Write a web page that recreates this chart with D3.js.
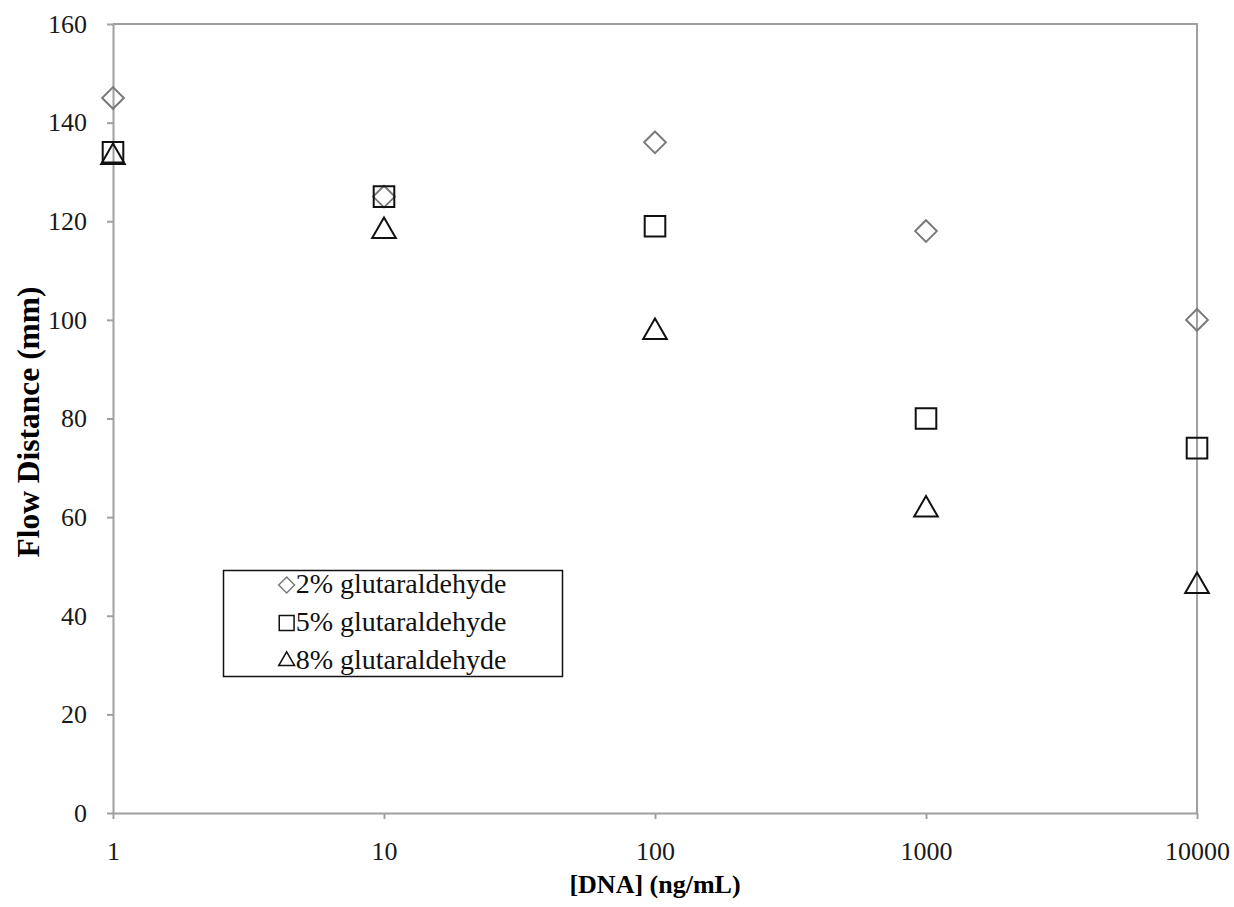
<!DOCTYPE html>
<html>
<head>
<meta charset="utf-8">
<script src="https://cdn.jsdelivr.net/npm/d3@7"></script>
<style>
  body { margin: 0; background: #fff; }
  .tick text { font-family: "Liberation Serif", "Times New Roman", serif; font-size: 26px; fill: #1a1a1a; }
  .tick line, .domain { stroke: #a0a0a0; stroke-width: 2; }
</style>
</head>
<body>
<svg width="1234" height="907"></svg>
<script>
var dna = [1, 10, 100, 1000, 10000];
var glut2 = [145, 125, 136, 118, 100];
var glut5 = [134, 125, 119, 80, 74];
var glut8 = [133, 118, 97.5, 61.5, 46];
var yTicks = [0, 20, 40, 60, 80, 100, 120, 140, 160];
var seriesNames = ["2% glutaraldehyde", "5% glutaraldehyde", "8% glutaraldehyde"];

var svg = d3.select("svg"),
	width = +svg.attr("width"),
	height = +svg.attr("height");

var margin = {left: 113, right: 37, top: 24, bottom: 94};

var x = d3.scaleLog()
	.domain([1, 10000])
	.range([margin.left, width - margin.right]);

var y = d3.scaleLinear()
	.domain([0, 160])
	.range([height - margin.bottom, margin.top]);

// frame (top and right edges)
svg.append("path")
	.attr("d", "M" + x(1) + "," + y(160) + "H" + x(10000) + "V" + y(0))
	.attr("fill", "none")
	.attr("stroke", "#a0a0a0")
	.attr("stroke-width", 2);

svg.append("g")
	.attr("transform", "translate(0," + y(0) + ")")
	.call(d3.axisBottom(x).tickValues(dna).tickFormat(d3.format("d")).tickSizeInner(6).tickSizeOuter(0).tickPadding(23));

svg.append("g")
	.attr("transform", "translate(" + x(1) + ",0)")
	.call(d3.axisLeft(y).tickValues(yTicks).tickSizeInner(6).tickSizeOuter(0).tickPadding(20));

// axis titles
svg.append("text")
	.attr("x", (x(1) + x(10000)) / 2)
	.attr("y", 893)
	.attr("text-anchor", "middle")
	.style("font-family", "'Liberation Serif', serif")
	.style("font-weight", "bold")
	.style("font-size", "26px")
	.text("[DNA] (ng/mL)");

svg.append("text")
	.attr("transform", "translate(39," + 422 + ") rotate(-90)")
	.attr("text-anchor", "middle")
	.style("font-family", "'Liberation Serif', serif")
	.style("font-weight", "bold")
	.style("font-size", "31.5px")
	.text("Flow Distance (mm)");

var shapes = [
	{vals: glut2, type: d3.symbolDiamond2, size: 300, color: "#7a7a7a"},
	{vals: glut5, type: d3.symbolSquare2, size: 540, color: "#111"},
	{vals: glut8, type: d3.symbolTriangle2, size: 400, color: "#111"}
];

shapes.forEach(function(s) {
	var sym = d3.symbol().type(s.type).size(s.size);
	svg.append("g").selectAll("path")
		.data(s.vals).enter()
		.append("path")
		.attr("d", sym)
		.attr("transform", function(d, i) { return "translate(" + x(dna[i]) + "," + y(d) + ")"; })
		.attr("fill", "none")
		.attr("stroke", s.color)
		.attr("stroke-width", 2);
});

// legend
var legend = svg.append("g");
legend.append("rect")
	.attr("x", 223.5).attr("y", 570.5)
	.attr("width", 339).attr("height", 106)
	.attr("fill", "#fff")
	.attr("stroke", "#111")
	.attr("stroke-width", 1.5);

var legSym = [
	{type: d3.symbolDiamond2, size: 160, color: "#7a7a7a"},
	{type: d3.symbolSquare2, size: 280, color: "#111"},
	{type: d3.symbolTriangle2, size: 180, color: "#111"}
];

seriesNames.forEach(function(name, i) {
	var cy = 583 + i * 38;
	var t = legend.append("text")
		.attr("x", 401)
		.attr("y", cy)
		.attr("dy", "0.35em")
		.attr("text-anchor", "middle")
		.style("font-family", "'Liberation Serif', serif")
		.style("font-size", "28px")
		.attr("fill", "#111")
		.text(name);
	var w = t.node().getComputedTextLength();
	legend.append("path")
		.attr("d", d3.symbol().type(legSym[i].type).size(legSym[i].size))
		.attr("transform", "translate(" + (401 - w / 2 - 9) + "," + (cy + 2) + ")")
		.attr("fill", "none")
		.attr("stroke", legSym[i].color)
		.attr("stroke-width", 1.5);
});
</script>
</body>
</html>
